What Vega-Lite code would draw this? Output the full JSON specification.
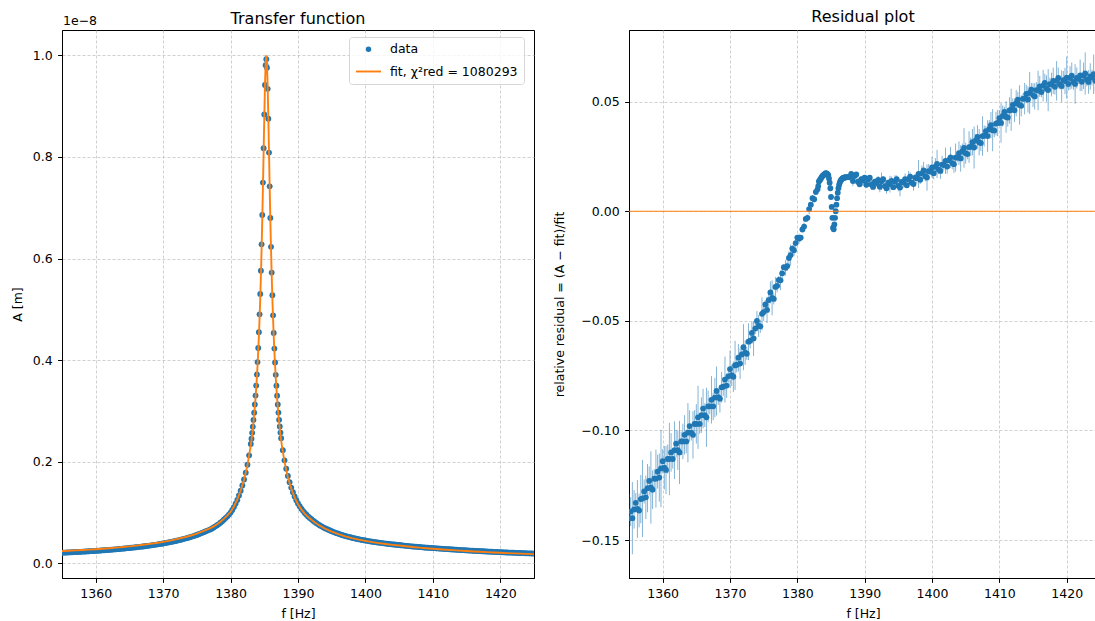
{
"$schema": "https://vega.github.io/schema/vega-lite/v6.json",
"padding": {"left": 10, "top": 8, "right": 0, "bottom": 4},
"background": "white",
"config": {
  "font": "DejaVu Sans",
  "view": {"stroke": "#000", "strokeWidth": 1},
  "axis": {"labelFontSize": 12.5, "titleFontSize": 12.5, "labelColor": "#000", "titleColor": "#000", "tickColor": "#000", "domainColor": "#000", "domainWidth": 1, "tickSize": 4.4, "tickWidth": 1, "labelPadding": 5.5, "grid": true, "gridColor": "#bbbbbb", "gridDash": [3, 2], "gridWidth": 0.7, "titleFontWeight": "normal"},
  "title": {"fontSize": 16, "fontWeight": "normal", "color": "#000", "frame": "group", "anchor": "middle"}
},
"resolve": {"scale": {"fill": "independent", "stroke": "independent", "shape": "independent", "size": "independent"}, "legend": {"fill": "independent", "stroke": "independent", "shape": "independent", "size": "independent"}},
"datasets": {
"obs": [
{"f":1355,"A":0.0207,"r":-0.14,"e":0.011},
{"f":1355.25,"A":0.0209,"r":-0.137,"e":0.0066},
{"f":1355.5,"A":0.021,"r":-0.14,"e":0.0165},
{"f":1355.75,"A":0.0212,"r":-0.136,"e":0.0088},
{"f":1356,"A":0.0214,"r":-0.133,"e":0.0044},
{"f":1356.25,"A":0.0215,"r":-0.1358,"e":0.0132},
{"f":1356.5,"A":0.0217,"r":-0.1365,"e":0.0077},
{"f":1356.75,"A":0.0219,"r":-0.1313,"e":0.011},
{"f":1357,"A":0.0221,"r":-0.131,"e":0.0176},
{"f":1357.25,"A":0.0222,"r":-0.1278,"e":0.0055},
{"f":1357.5,"A":0.0224,"r":-0.1305,"e":0.0099},
{"f":1357.75,"A":0.0226,"r":-0.1263,"e":0.011},
{"f":1358,"A":0.0228,"r":-0.123,"e":0.0066},
{"f":1358.25,"A":0.023,"r":-0.126,"e":0.0165},
{"f":1358.5,"A":0.0232,"r":-0.127,"e":0.0088},
{"f":1358.75,"A":0.0234,"r":-0.122,"e":0.0044},
{"f":1359,"A":0.0236,"r":-0.122,"e":0.0132},
{"f":1359.25,"A":0.0238,"r":-0.1188,"e":0.0077},
{"f":1359.5,"A":0.024,"r":-0.1215,"e":0.011},
{"f":1359.75,"A":0.0242,"r":-0.1173,"e":0.0176},
{"f":1360,"A":0.0245,"r":-0.114,"e":0.0055},
{"f":1360.25,"A":0.0247,"r":-0.117,"e":0.0099},
{"f":1360.5,"A":0.0249,"r":-0.118,"e":0.011},
{"f":1360.75,"A":0.0252,"r":-0.113,"e":0.0066},
{"f":1361,"A":0.0254,"r":-0.113,"e":0.0165},
{"f":1361.25,"A":0.0257,"r":-0.11,"e":0.0088},
{"f":1361.5,"A":0.0259,"r":-0.113,"e":0.0044},
{"f":1361.75,"A":0.0262,"r":-0.109,"e":0.0132},
{"f":1362,"A":0.0264,"r":-0.106,"e":0.0063},
{"f":1362.25,"A":0.0267,"r":-0.109,"e":0.009},
{"f":1362.5,"A":0.027,"r":-0.11,"e":0.0144},
{"f":1362.75,"A":0.0272,"r":-0.105,"e":0.0045},
{"f":1363,"A":0.0275,"r":-0.105,"e":0.0081},
{"f":1363.25,"A":0.0278,"r":-0.102,"e":0.009},
{"f":1363.5,"A":0.0281,"r":-0.105,"e":0.0054},
{"f":1363.75,"A":0.0284,"r":-0.101,"e":0.0135},
{"f":1364,"A":0.0287,"r":-0.098,"e":0.0072},
{"f":1364.25,"A":0.0291,"r":-0.101,"e":0.0036},
{"f":1364.5,"A":0.0294,"r":-0.102,"e":0.0108},
{"f":1364.75,"A":0.0298,"r":-0.097,"e":0.0063},
{"f":1365,"A":0.0301,"r":-0.097,"e":0.009},
{"f":1365.25,"A":0.0305,"r":-0.094,"e":0.0144},
{"f":1365.5,"A":0.0308,"r":-0.097,"e":0.0045},
{"f":1365.75,"A":0.0312,"r":-0.093,"e":0.0081},
{"f":1366,"A":0.0315,"r":-0.09,"e":0.009},
{"f":1366.25,"A":0.0319,"r":-0.093,"e":0.0054},
{"f":1366.5,"A":0.0323,"r":-0.094,"e":0.0135},
{"f":1366.75,"A":0.0327,"r":-0.089,"e":0.0072},
{"f":1367,"A":0.0331,"r":-0.089,"e":0.0036},
{"f":1367.25,"A":0.0335,"r":-0.086,"e":0.0108},
{"f":1367.5,"A":0.034,"r":-0.089,"e":0.0063},
{"f":1367.75,"A":0.0344,"r":-0.085,"e":0.009},
{"f":1368,"A":0.0349,"r":-0.082,"e":0.0112},
{"f":1368.25,"A":0.0353,"r":-0.0848,"e":0.0035},
{"f":1368.5,"A":0.0358,"r":-0.0855,"e":0.0063},
{"f":1368.75,"A":0.0363,"r":-0.0803,"e":0.007},
{"f":1369,"A":0.0368,"r":-0.08,"e":0.0042},
{"f":1369.25,"A":0.0373,"r":-0.0768,"e":0.0105},
{"f":1369.5,"A":0.0379,"r":-0.0795,"e":0.0056},
{"f":1369.75,"A":0.0384,"r":-0.0753,"e":0.0028},
{"f":1370,"A":0.039,"r":-0.072,"e":0.0084},
{"f":1370.25,"A":0.0396,"r":-0.0748,"e":0.0049},
{"f":1370.5,"A":0.0402,"r":-0.0755,"e":0.007},
{"f":1370.75,"A":0.0409,"r":-0.0703,"e":0.0112},
{"f":1371,"A":0.0415,"r":-0.07,"e":0.0035},
{"f":1371.25,"A":0.0422,"r":-0.0668,"e":0.0063},
{"f":1371.5,"A":0.0429,"r":-0.0695,"e":0.007},
{"f":1371.75,"A":0.0436,"r":-0.0653,"e":0.0042},
{"f":1372,"A":0.0444,"r":-0.062,"e":0.0105},
{"f":1372.25,"A":0.0452,"r":-0.0645,"e":0.0056},
{"f":1372.5,"A":0.046,"r":-0.065,"e":0.0028},
{"f":1372.75,"A":0.0468,"r":-0.0595,"e":0.0084},
{"f":1373,"A":0.0477,"r":-0.059,"e":0.0035},
{"f":1373.25,"A":0.0486,"r":-0.0555,"e":0.005},
{"f":1373.5,"A":0.0495,"r":-0.058,"e":0.008},
{"f":1373.75,"A":0.0504,"r":-0.0535,"e":0.0025},
{"f":1374,"A":0.0514,"r":-0.05,"e":0.0045},
{"f":1374.25,"A":0.0525,"r":-0.0523,"e":0.005},
{"f":1374.5,"A":0.0536,"r":-0.0525,"e":0.003},
{"f":1374.75,"A":0.0547,"r":-0.0468,"e":0.0075},
{"f":1375,"A":0.0559,"r":-0.046,"e":0.004},
{"f":1375.25,"A":0.0572,"r":-0.0425,"e":0.002},
{"f":1375.5,"A":0.0585,"r":-0.045,"e":0.006},
{"f":1375.75,"A":0.0598,"r":-0.0405,"e":0.0035},
{"f":1376,"A":0.0612,"r":-0.037,"e":0.005},
{"f":1376.25,"A":0.0626,"r":-0.0395,"e":0.008},
{"f":1376.5,"A":0.0639,"r":-0.04,"e":0.0025},
{"f":1376.75,"A":0.0653,"r":-0.0345,"e":0.0045},
{"f":1377,"A":0.0667,"r":-0.034,"e":0.003},
{"f":1377.25,"A":0.0686,"r":-0.0313,"e":0.0018},
{"f":1377.5,"A":0.0706,"r":-0.0315,"e":0.0045},
{"f":1377.75,"A":0.0727,"r":-0.0283,"e":0.0024},
{"f":1378,"A":0.0748,"r":-0.0255,"e":0.0012},
{"f":1378.25,"A":0.0772,"r":-0.0258,"e":0.0036},
{"f":1378.5,"A":0.0799,"r":-0.025,"e":0.0021},
{"f":1378.75,"A":0.0825,"r":-0.0213,"e":0.003},
{"f":1379,"A":0.0857,"r":-0.02,"e":0.0048},
{"f":1379.25,"A":0.0889,"r":-0.017,"e":0.0015},
{"f":1379.5,"A":0.092,"r":-0.0178,"e":0.0027},
{"f":1379.75,"A":0.0958,"r":-0.0145,"e":0.003},
{"f":1380,"A":0.0998,"r":-0.012,"e":0.0009},
{"f":1380.25,"A":0.1049,"r":-0.0125,"e":0.0023},
{"f":1380.5,"A":0.1106,"r":-0.012,"e":0.0012},
{"f":1380.75,"A":0.1175,"r":-0.0083,"e":0.0006},
{"f":1381,"A":0.1248,"r":-0.007,"e":0.0018},
{"f":1381.25,"A":0.1335,"r":-0.0035,"e":0.0011},
{"f":1381.5,"A":0.1429,"r":-0.003,"e":0.0015},
{"f":1381.75,"A":0.1532,"r":0.001,"e":0.0024},
{"f":1382,"A":0.1649,"r":0.003,"e":0.0008},
{"f":1382.25,"A":0.1784,"r":0.006,"e":0.0014},
{"f":1382.5,"A":0.194,"r":0.0055,"e":0.0015},
{"f":1382.75,"A":0.2125,"r":0.0088,"e":0.0009},
{"f":1383,"A":0.2349,"r":0.01,"e":0.0008},
{"f":1383.1,"A":0.2453,"r":0.0115,"e":0.0005},
{"f":1383.2,"A":0.2568,"r":0.0136,"e":0.0012},
{"f":1383.3,"A":0.2689,"r":0.014,"e":0.0006},
{"f":1383.4,"A":0.2821,"r":0.0145,"e":0.0003},
{"f":1383.5,"A":0.2966,"r":0.015,"e":0.001},
{"f":1383.6,"A":0.3127,"r":0.0155,"e":0.0005},
{"f":1383.7,"A":0.3302,"r":0.016,"e":0.0008},
{"f":1383.8,"A":0.3499,"r":0.0163,"e":0.0013},
{"f":1383.9,"A":0.3717,"r":0.0166,"e":0.0004},
{"f":1384,"A":0.3961,"r":0.0168,"e":0.0007},
{"f":1384.1,"A":0.4238,"r":0.0171,"e":0.0008},
{"f":1384.2,"A":0.455,"r":0.0174,"e":0.0005},
{"f":1384.3,"A":0.4902,"r":0.0173,"e":0.0012},
{"f":1384.4,"A":0.5304,"r":0.0172,"e":0.0006},
{"f":1384.5,"A":0.576,"r":0.0168,"e":0.0003},
{"f":1384.6,"A":0.628,"r":0.0165,"e":0.001},
{"f":1384.7,"A":0.6858,"r":0.015,"e":0.0005},
{"f":1384.8,"A":0.7496,"r":0.013,"e":0.0008},
{"f":1384.9,"A":0.8172,"r":0.0105,"e":0.0013},
{"f":1385,"A":0.8836,"r":0.0065,"e":0.0004},
{"f":1385.1,"A":0.9417,"r":0.002,"e":0.0007},
{"f":1385.2,"A":0.9808,"r":-0.003,"e":0.0008},
{"f":1385.3,"A":0.9925,"r":-0.0075,"e":0.0005},
{"f":1385.4,"A":0.9757,"r":-0.0082,"e":0.0012},
{"f":1385.5,"A":0.9342,"r":-0.006,"e":0.0006},
{"f":1385.6,"A":0.8753,"r":-0.003,"e":0.0003},
{"f":1385.7,"A":0.8087,"r":0.0,"e":0.001},
{"f":1385.8,"A":0.7422,"r":0.003,"e":0.0005},
{"f":1385.9,"A":0.6798,"r":0.006,"e":0.0008},
{"f":1386,"A":0.6231,"r":0.0085,"e":0.0013},
{"f":1386.1,"A":0.5724,"r":0.0105,"e":0.0004},
{"f":1386.2,"A":0.5277,"r":0.012,"e":0.0007},
{"f":1386.3,"A":0.4882,"r":0.013,"e":0.0008},
{"f":1386.4,"A":0.4534,"r":0.0138,"e":0.0005},
{"f":1386.5,"A":0.4227,"r":0.0143,"e":0.0012},
{"f":1386.6,"A":0.3953,"r":0.0147,"e":0.0006},
{"f":1386.7,"A":0.3711,"r":0.015,"e":0.0003},
{"f":1386.8,"A":0.3495,"r":0.0152,"e":0.001},
{"f":1386.9,"A":0.33,"r":0.0153,"e":0.0005},
{"f":1387,"A":0.3126,"r":0.0154,"e":0.0008},
{"f":1387.1,"A":0.2967,"r":0.0155,"e":0.0013},
{"f":1387.2,"A":0.2824,"r":0.0155,"e":0.0004},
{"f":1387.3,"A":0.2693,"r":0.0155,"e":0.0007},
{"f":1387.4,"A":0.2574,"r":0.0156,"e":0.0008},
{"f":1387.5,"A":0.2463,"r":0.0156,"e":0.0005},
{"f":1387.75,"A":0.2225,"r":0.0156,"e":0.0015},
{"f":1388,"A":0.2027,"r":0.017,"e":0.0009},
{"f":1388.25,"A":0.1861,"r":0.0138,"e":0.0023},
{"f":1388.5,"A":0.172,"r":0.0161,"e":0.0012},
{"f":1388.75,"A":0.1597,"r":0.0168,"e":0.0006},
{"f":1389,"A":0.1491,"r":0.0135,"e":0.0018},
{"f":1389.25,"A":0.1399,"r":0.0123,"e":0.0011},
{"f":1389.5,"A":0.1317,"r":0.0146,"e":0.0015},
{"f":1389.75,"A":0.1243,"r":0.014,"e":0.0024},
{"f":1390,"A":0.1178,"r":0.0153,"e":0.0008},
{"f":1390.25,"A":0.1123,"r":0.0121,"e":0.0014},
{"f":1390.5,"A":0.1075,"r":0.0145,"e":0.0015},
{"f":1390.75,"A":0.1032,"r":0.0153,"e":0.0009},
{"f":1391,"A":0.0991,"r":0.0122,"e":0.0023},
{"f":1391.25,"A":0.0956,"r":0.0111,"e":0.0012},
{"f":1391.5,"A":0.0923,"r":0.0135,"e":0.0006},
{"f":1391.75,"A":0.0893,"r":0.0129,"e":0.0018},
{"f":1392,"A":0.0866,"r":0.0143,"e":0.0018},
{"f":1392.25,"A":0.0838,"r":0.0112,"e":0.0025},
{"f":1392.5,"A":0.0813,"r":0.0137,"e":0.004},
{"f":1392.75,"A":0.0789,"r":0.0146,"e":0.0013},
{"f":1393,"A":0.0767,"r":0.0115,"e":0.0023},
{"f":1393.25,"A":0.0745,"r":0.0105,"e":0.0025},
{"f":1393.5,"A":0.0727,"r":0.013,"e":0.0015},
{"f":1393.75,"A":0.0708,"r":0.0124,"e":0.0038},
{"f":1394,"A":0.0692,"r":0.0139,"e":0.002},
{"f":1394.25,"A":0.0675,"r":0.011,"e":0.001},
{"f":1394.5,"A":0.066,"r":0.0135,"e":0.003},
{"f":1394.75,"A":0.0645,"r":0.0146,"e":0.0018},
{"f":1395,"A":0.0632,"r":0.0116,"e":0.0025},
{"f":1395.25,"A":0.0618,"r":0.0108,"e":0.004},
{"f":1395.5,"A":0.0605,"r":0.0134,"e":0.0013},
{"f":1395.75,"A":0.0593,"r":0.0131,"e":0.0023},
{"f":1396,"A":0.0581,"r":0.0147,"e":0.0025},
{"f":1396.25,"A":0.057,"r":0.0119,"e":0.0015},
{"f":1396.5,"A":0.0559,"r":0.0146,"e":0.0038},
{"f":1396.75,"A":0.0549,"r":0.0158,"e":0.002},
{"f":1397,"A":0.0538,"r":0.013,"e":0.001},
{"f":1397.25,"A":0.0529,"r":0.0124,"e":0.003},
{"f":1397.5,"A":0.052,"r":0.0153,"e":0.0018},
{"f":1397.75,"A":0.0512,"r":0.0151,"e":0.0025},
{"f":1398,"A":0.0503,"r":0.017,"e":0.0064},
{"f":1398.25,"A":0.0495,"r":0.0144,"e":0.002},
{"f":1398.5,"A":0.0488,"r":0.0173,"e":0.0036},
{"f":1398.75,"A":0.048,"r":0.0186,"e":0.004},
{"f":1399,"A":0.0473,"r":0.016,"e":0.0024},
{"f":1399.25,"A":0.0466,"r":0.0154,"e":0.006},
{"f":1399.5,"A":0.046,"r":0.0183,"e":0.0032},
{"f":1399.75,"A":0.0454,"r":0.0181,"e":0.0016},
{"f":1400,"A":0.0448,"r":0.02,"e":0.0048},
{"f":1400.25,"A":0.0442,"r":0.0174,"e":0.0028},
{"f":1400.5,"A":0.0437,"r":0.0203,"e":0.004},
{"f":1400.75,"A":0.0431,"r":0.0216,"e":0.0064},
{"f":1401,"A":0.0425,"r":0.019,"e":0.002},
{"f":1401.25,"A":0.042,"r":0.0184,"e":0.0036},
{"f":1401.5,"A":0.0416,"r":0.0213,"e":0.004},
{"f":1401.75,"A":0.0411,"r":0.0211,"e":0.0024},
{"f":1402,"A":0.0406,"r":0.023,"e":0.006},
{"f":1402.25,"A":0.0402,"r":0.0204,"e":0.0032},
{"f":1402.5,"A":0.0397,"r":0.0233,"e":0.0016},
{"f":1402.75,"A":0.0393,"r":0.0246,"e":0.0048},
{"f":1403,"A":0.0388,"r":0.022,"e":0.0028},
{"f":1403.25,"A":0.0384,"r":0.0215,"e":0.004},
{"f":1403.5,"A":0.038,"r":0.0245,"e":0.0064},
{"f":1403.75,"A":0.0376,"r":0.0245,"e":0.002},
{"f":1404,"A":0.0372,"r":0.0265,"e":0.0054},
{"f":1404.25,"A":0.0369,"r":0.0241,"e":0.006},
{"f":1404.5,"A":0.0366,"r":0.0273,"e":0.0036},
{"f":1404.75,"A":0.0362,"r":0.0289,"e":0.009},
{"f":1405,"A":0.0359,"r":0.0265,"e":0.0048},
{"f":1405.25,"A":0.0355,"r":0.0261,"e":0.0024},
{"f":1405.5,"A":0.0351,"r":0.0293,"e":0.0072},
{"f":1405.75,"A":0.0348,"r":0.0294,"e":0.0042},
{"f":1406,"A":0.0344,"r":0.0315,"e":0.006},
{"f":1406.25,"A":0.0341,"r":0.0291,"e":0.0096},
{"f":1406.5,"A":0.0338,"r":0.0323,"e":0.003},
{"f":1406.75,"A":0.0334,"r":0.0339,"e":0.0054},
{"f":1407,"A":0.0331,"r":0.0315,"e":0.006},
{"f":1407.25,"A":0.0328,"r":0.0311,"e":0.0036},
{"f":1407.5,"A":0.0325,"r":0.0343,"e":0.009},
{"f":1407.75,"A":0.0323,"r":0.0344,"e":0.0048},
{"f":1408,"A":0.032,"r":0.0365,"e":0.0024},
{"f":1408.25,"A":0.0317,"r":0.0343,"e":0.0072},
{"f":1408.5,"A":0.0314,"r":0.0375,"e":0.0042},
{"f":1408.75,"A":0.0311,"r":0.0393,"e":0.006},
{"f":1409,"A":0.0308,"r":0.037,"e":0.0096},
{"f":1409.25,"A":0.0306,"r":0.0368,"e":0.003},
{"f":1409.5,"A":0.0304,"r":0.04,"e":0.0054},
{"f":1409.75,"A":0.0301,"r":0.0403,"e":0.006},
{"f":1410,"A":0.0299,"r":0.0425,"e":0.0036},
{"f":1410.25,"A":0.0297,"r":0.0403,"e":0.009},
{"f":1410.5,"A":0.0294,"r":0.0435,"e":0.0048},
{"f":1410.75,"A":0.0292,"r":0.0453,"e":0.0024},
{"f":1411,"A":0.0289,"r":0.043,"e":0.0072},
{"f":1411.25,"A":0.0287,"r":0.0428,"e":0.0042},
{"f":1411.5,"A":0.0285,"r":0.046,"e":0.006},
{"f":1411.75,"A":0.0282,"r":0.0463,"e":0.0096},
{"f":1412,"A":0.028,"r":0.0485,"e":0.003},
{"f":1412.25,"A":0.0278,"r":0.0461,"e":0.0054},
{"f":1412.5,"A":0.0276,"r":0.0493,"e":0.006},
{"f":1412.75,"A":0.0273,"r":0.0509,"e":0.0036},
{"f":1413,"A":0.0271,"r":0.0485,"e":0.009},
{"f":1413.25,"A":0.0269,"r":0.0481,"e":0.0048},
{"f":1413.5,"A":0.0267,"r":0.0513,"e":0.0024},
{"f":1413.75,"A":0.0264,"r":0.0514,"e":0.0072},
{"f":1414,"A":0.0262,"r":0.0535,"e":0.0042},
{"f":1414.25,"A":0.026,"r":0.051,"e":0.006},
{"f":1414.5,"A":0.0258,"r":0.054,"e":0.0096},
{"f":1414.75,"A":0.0256,"r":0.0555,"e":0.003},
{"f":1415,"A":0.0254,"r":0.053,"e":0.0054},
{"f":1415.25,"A":0.0252,"r":0.0524,"e":0.006},
{"f":1415.5,"A":0.025,"r":0.0553,"e":0.0036},
{"f":1415.75,"A":0.0248,"r":0.0551,"e":0.009},
{"f":1416,"A":0.0246,"r":0.057,"e":0.0048},
{"f":1416.25,"A":0.0244,"r":0.0544,"e":0.0024},
{"f":1416.5,"A":0.0243,"r":0.0573,"e":0.0072},
{"f":1416.75,"A":0.0241,"r":0.0586,"e":0.0042},
{"f":1417,"A":0.0239,"r":0.056,"e":0.006},
{"f":1417.25,"A":0.0237,"r":0.0553,"e":0.0096},
{"f":1417.5,"A":0.0236,"r":0.058,"e":0.003},
{"f":1417.75,"A":0.0234,"r":0.0578,"e":0.0054},
{"f":1418,"A":0.0232,"r":0.0595,"e":0.006},
{"f":1418.25,"A":0.023,"r":0.0568,"e":0.0036},
{"f":1418.5,"A":0.0229,"r":0.0595,"e":0.009},
{"f":1418.75,"A":0.0227,"r":0.0608,"e":0.0048},
{"f":1419,"A":0.0225,"r":0.058,"e":0.0024},
{"f":1419.25,"A":0.0223,"r":0.0571,"e":0.0072},
{"f":1419.5,"A":0.0222,"r":0.0598,"e":0.0042},
{"f":1419.75,"A":0.022,"r":0.0594,"e":0.006},
{"f":1420,"A":0.0218,"r":0.061,"e":0.0096},
{"f":1420.25,"A":0.0217,"r":0.0581,"e":0.003},
{"f":1420.5,"A":0.0215,"r":0.0608,"e":0.0054},
{"f":1420.75,"A":0.0214,"r":0.0619,"e":0.006},
{"f":1421,"A":0.0212,"r":0.059,"e":0.0036},
{"f":1421.25,"A":0.0211,"r":0.0581,"e":0.009},
{"f":1421.5,"A":0.021,"r":0.0608,"e":0.0048},
{"f":1421.75,"A":0.0208,"r":0.0604,"e":0.0024},
{"f":1422,"A":0.0207,"r":0.062,"e":0.0072},
{"f":1422.25,"A":0.0206,"r":0.0591,"e":0.0042},
{"f":1422.5,"A":0.0204,"r":0.0618,"e":0.006},
{"f":1422.75,"A":0.0203,"r":0.0629,"e":0.0096},
{"f":1423,"A":0.0202,"r":0.06,"e":0.003},
{"f":1423.25,"A":0.02,"r":0.059,"e":0.0054},
{"f":1423.5,"A":0.0199,"r":0.0615,"e":0.006},
{"f":1423.75,"A":0.0197,"r":0.061,"e":0.0036},
{"f":1424,"A":0.0196,"r":0.0625,"e":0.009},
{"f":1424.25,"A":0.0195,"r":0.0595,"e":0.0048},
{"f":1424.5,"A":0.0194,"r":0.062,"e":0.0024},
{"f":1424.75,"A":0.0192,"r":0.063,"e":0.0072},
{"f":1425,"A":0.0191,"r":0.06,"e":0.0042}
],
"fit": [
{"f":1355,"m":0.02409},{"f":1356,"m":0.02471},{"f":1357,"m":0.02537},{"f":1358,"m":0.02608},{"f":1359,"m":0.02684},
{"f":1360,"m":0.02771},{"f":1361,"m":0.02864},{"f":1362,"m":0.02966},{"f":1363,"m":0.03076},{"f":1364,"m":0.03197},
{"f":1365,"m":0.03335},{"f":1366,"m":0.03477},{"f":1367,"m":0.03634},{"f":1368,"m":0.03809},{"f":1369,"m":0.04},
{"f":1370,"m":0.04216},{"f":1371,"m":0.04462},{"f":1372,"m":0.04744},{"f":1373,"m":0.05065},{"f":1374,"m":0.05425},
{"f":1375,"m":0.05854},{"f":1376,"m":0.06376},{"f":1377,"m":0.06904},{"f":1377.5,"m":0.0726},{"f":1378,"m":0.0769},
{"f":1378.5,"m":0.0818},{"f":1379,"m":0.0874},{"f":1379.5,"m":0.0938},{"f":1380,"m":0.101},{"f":1380.5,"m":0.1118},
{"f":1381,"m":0.1257},{"f":1381.5,"m":0.1432},{"f":1382,"m":0.1644},{"f":1382.5,"m":0.1927},
{"f":1383,"m":0.2326},{"f":1383.1,"m":0.2425},{"f":1383.2,"m":0.2534},{"f":1383.3,"m":0.2652},{"f":1383.4,"m":0.2781},
{"f":1383.5,"m":0.2922},{"f":1383.6,"m":0.3079},{"f":1383.7,"m":0.325},{"f":1383.8,"m":0.3443},{"f":1383.9,"m":0.3656},
{"f":1384,"m":0.3896},{"f":1384.1,"m":0.4167},{"f":1384.2,"m":0.4472},{"f":1384.3,"m":0.4819},{"f":1384.4,"m":0.5214},
{"f":1384.5,"m":0.5665},{"f":1384.6,"m":0.6178},{"f":1384.7,"m":0.6757},{"f":1384.8,"m":0.74},{"f":1384.9,"m":0.8087},
{"f":1385,"m":0.8779},{"f":1385.1,"m":0.9398},{"f":1385.2,"m":0.9838},{"f":1385.3,"m":1.0},{"f":1385.4,"m":0.9838},
{"f":1385.5,"m":0.9398},{"f":1385.6,"m":0.8779},{"f":1385.7,"m":0.8087},{"f":1385.8,"m":0.74},{"f":1385.9,"m":0.6757},
{"f":1386,"m":0.6178},{"f":1386.1,"m":0.5665},{"f":1386.2,"m":0.5214},{"f":1386.3,"m":0.4819},{"f":1386.4,"m":0.4472},
{"f":1386.5,"m":0.4167},{"f":1386.6,"m":0.3896},{"f":1386.7,"m":0.3656},{"f":1386.8,"m":0.3443},{"f":1386.9,"m":0.325},
{"f":1387,"m":0.3079},{"f":1387.1,"m":0.2922},{"f":1387.2,"m":0.2781},{"f":1387.3,"m":0.2652},{"f":1387.4,"m":0.2534},
{"f":1387.5,"m":0.2425},{"f":1387.6,"m":0.2326},{"f":1388,"m":0.1996},{"f":1388.5,"m":0.1694},{"f":1389,"m":0.147},
{"f":1389.5,"m":0.1299},{"f":1390,"m":0.1162},{"f":1390.5,"m":0.1061},{"f":1391,"m":0.0978},{"f":1391.5,"m":0.0911},
{"f":1392,"m":0.0855},{"f":1392.5,"m":0.0803},{"f":1393,"m":0.0758},{"f":1394,"m":0.0684},{"f":1395,"m":0.0624},
{"f":1396,"m":0.0573},{"f":1397,"m":0.0531},{"f":1398,"m":0.0495},{"f":1399,"m":0.0465},{"f":1400,"m":0.044},
{"f":1401,"m":0.0417},{"f":1402,"m":0.0397},{"f":1403,"m":0.0379},{"f":1404,"m":0.0363},{"f":1405,"m":0.0349},
{"f":1406,"m":0.0334},{"f":1407,"m":0.0321},{"f":1408,"m":0.0309},{"f":1409,"m":0.0297},{"f":1410,"m":0.0287},
{"f":1411,"m":0.0277},{"f":1412,"m":0.0267},{"f":1413,"m":0.0258},{"f":1414,"m":0.0249},{"f":1415,"m":0.0241},
{"f":1416,"m":0.0233},{"f":1417,"m":0.0226},{"f":1418,"m":0.0219},{"f":1419,"m":0.0212},{"f":1420,"m":0.0206},
{"f":1421,"m":0.02},{"f":1422,"m":0.0195},{"f":1423,"m":0.019},{"f":1424,"m":0.0185},{"f":1425,"m":0.018}
]
},
"hconcat": [
{
  "width": 472, "height": 548,
  "title": {"text": "Transfer function", "offset": -12},
  "layer": [
    {
      "data": {"name": "obs"},
      "mark": {"type": "point", "filled": true, "size": 34, "opacity": 1, "color": "#1f77b4", "clip": true},
      "encoding": {
        "x": {"field": "f", "type": "quantitative", "scale": {"domain": [1355, 1425], "nice": false, "zero": false},
              "axis": {"title": "f [Hz]", "values": [1360, 1370, 1380, 1390, 1400, 1410, 1420], "format": "d", "titlePadding": 7}},
        "y": {"field": "A", "type": "quantitative", "scale": {"domain": [-0.029, 1.05], "nice": false, "zero": false},
              "axis": {"title": "A [m]", "values": [0, 0.2, 0.4, 0.6, 0.8, 1.0], "format": ".1f", "titlePadding": 8}}
      }
    },
    {
      "data": {"name": "fit"},
      "mark": {"type": "line", "strokeWidth": 1.9, "color": "#ff7f0e", "clip": true},
      "encoding": {
        "x": {"field": "f", "type": "quantitative"},
        "y": {"field": "m", "type": "quantitative"}
      }
    },
    {
      "data": {"values": []},
      "mark": {"type": "point", "filled": true, "opacity": 1},
      "encoding": {
        "fill": {"datum": "data", "type": "nominal",
                 "scale": {"domain": ["data", "fit, χ²red = 1080293"], "range": ["#1f77b4", "transparent"]},
                 "legend": {"title": null, "orient": "none", "legendX": 287, "legendY": 7, "fillColor": "rgba(255,255,255,0.8)", "strokeColor": "#d6d6d6", "cornerRadius": 3, "padding": 6, "labelFontSize": 12.5, "labelColor": "#000", "labelLimit": 400, "labelOffset": 8, "rowPadding": 2, "symbolStrokeWidth": 1.9, "symbolOpacity": 1}},
        "stroke": {"datum": "data", "type": "nominal",
                   "scale": {"domain": ["data", "fit, χ²red = 1080293"], "range": ["transparent", "#ff7f0e"]},
                   "legend": {"title": null, "orient": "none"}},
        "shape": {"datum": "data", "type": "nominal",
                  "scale": {"domain": ["data", "fit, χ²red = 1080293"], "range": ["circle", "stroke"]},
                  "legend": {"title": null, "orient": "none"}},
        "size": {"datum": "data", "type": "ordinal",
                 "scale": {"domain": ["data", "fit, χ²red = 1080293"], "range": [30, 625]},
                 "legend": {"title": null, "orient": "none"}}
      }
    },
    {
      "data": {"values": [{"t": "1e−8"}]},
      "mark": {"type": "text", "align": "left", "baseline": "alphabetic", "dx": 1, "dy": -5, "fontSize": 12.5, "color": "#000"},
      "encoding": {
        "x": {"datum": 1355, "type": "quantitative"},
        "y": {"datum": 1.05, "type": "quantitative"},
        "text": {"field": "t"}
      }
    }
  ]
},
{
  "width": 468, "height": 548,
  "title": {"text": "Residual plot", "offset": 5},
  "data": {"name": "obs"},
  "layer": [
    {
      "mark": {"type": "errorbar", "clip": true, "thickness": 1, "color": "#1f77b4", "opacity": 0.55},
      "encoding": {
        "x": {"field": "f", "type": "quantitative", "scale": {"domain": [1355, 1424.5], "nice": false, "zero": false},
              "axis": {"title": "f [Hz]", "values": [1360, 1370, 1380, 1390, 1400, 1410, 1420], "format": "d", "titlePadding": 7}},
        "y": {"field": "r", "type": "quantitative", "scale": {"domain": [-0.1673, 0.0827], "nice": false, "zero": false},
              "axis": {"title": "relative residual = (A − fit)/fit", "values": [-0.15, -0.1, -0.05, 0, 0.05], "format": ".2f", "titlePadding": 14}},
        "yError": {"field": "e"}
      }
    },
    {
      "mark": {"type": "point", "filled": true, "size": 34, "opacity": 1, "color": "#1f77b4", "clip": true},
      "encoding": {
        "x": {"field": "f", "type": "quantitative"},
        "y": {"field": "r", "type": "quantitative"}
      }
    },
    {
      "data": {"values": [{"z": 0}]},
      "mark": {"type": "rule", "color": "#ff7f0e", "strokeWidth": 1},
      "encoding": {"y": {"field": "z", "type": "quantitative"}}
    }
  ]
}
],
"spacing": 95,
"bounds": "flush"
}
